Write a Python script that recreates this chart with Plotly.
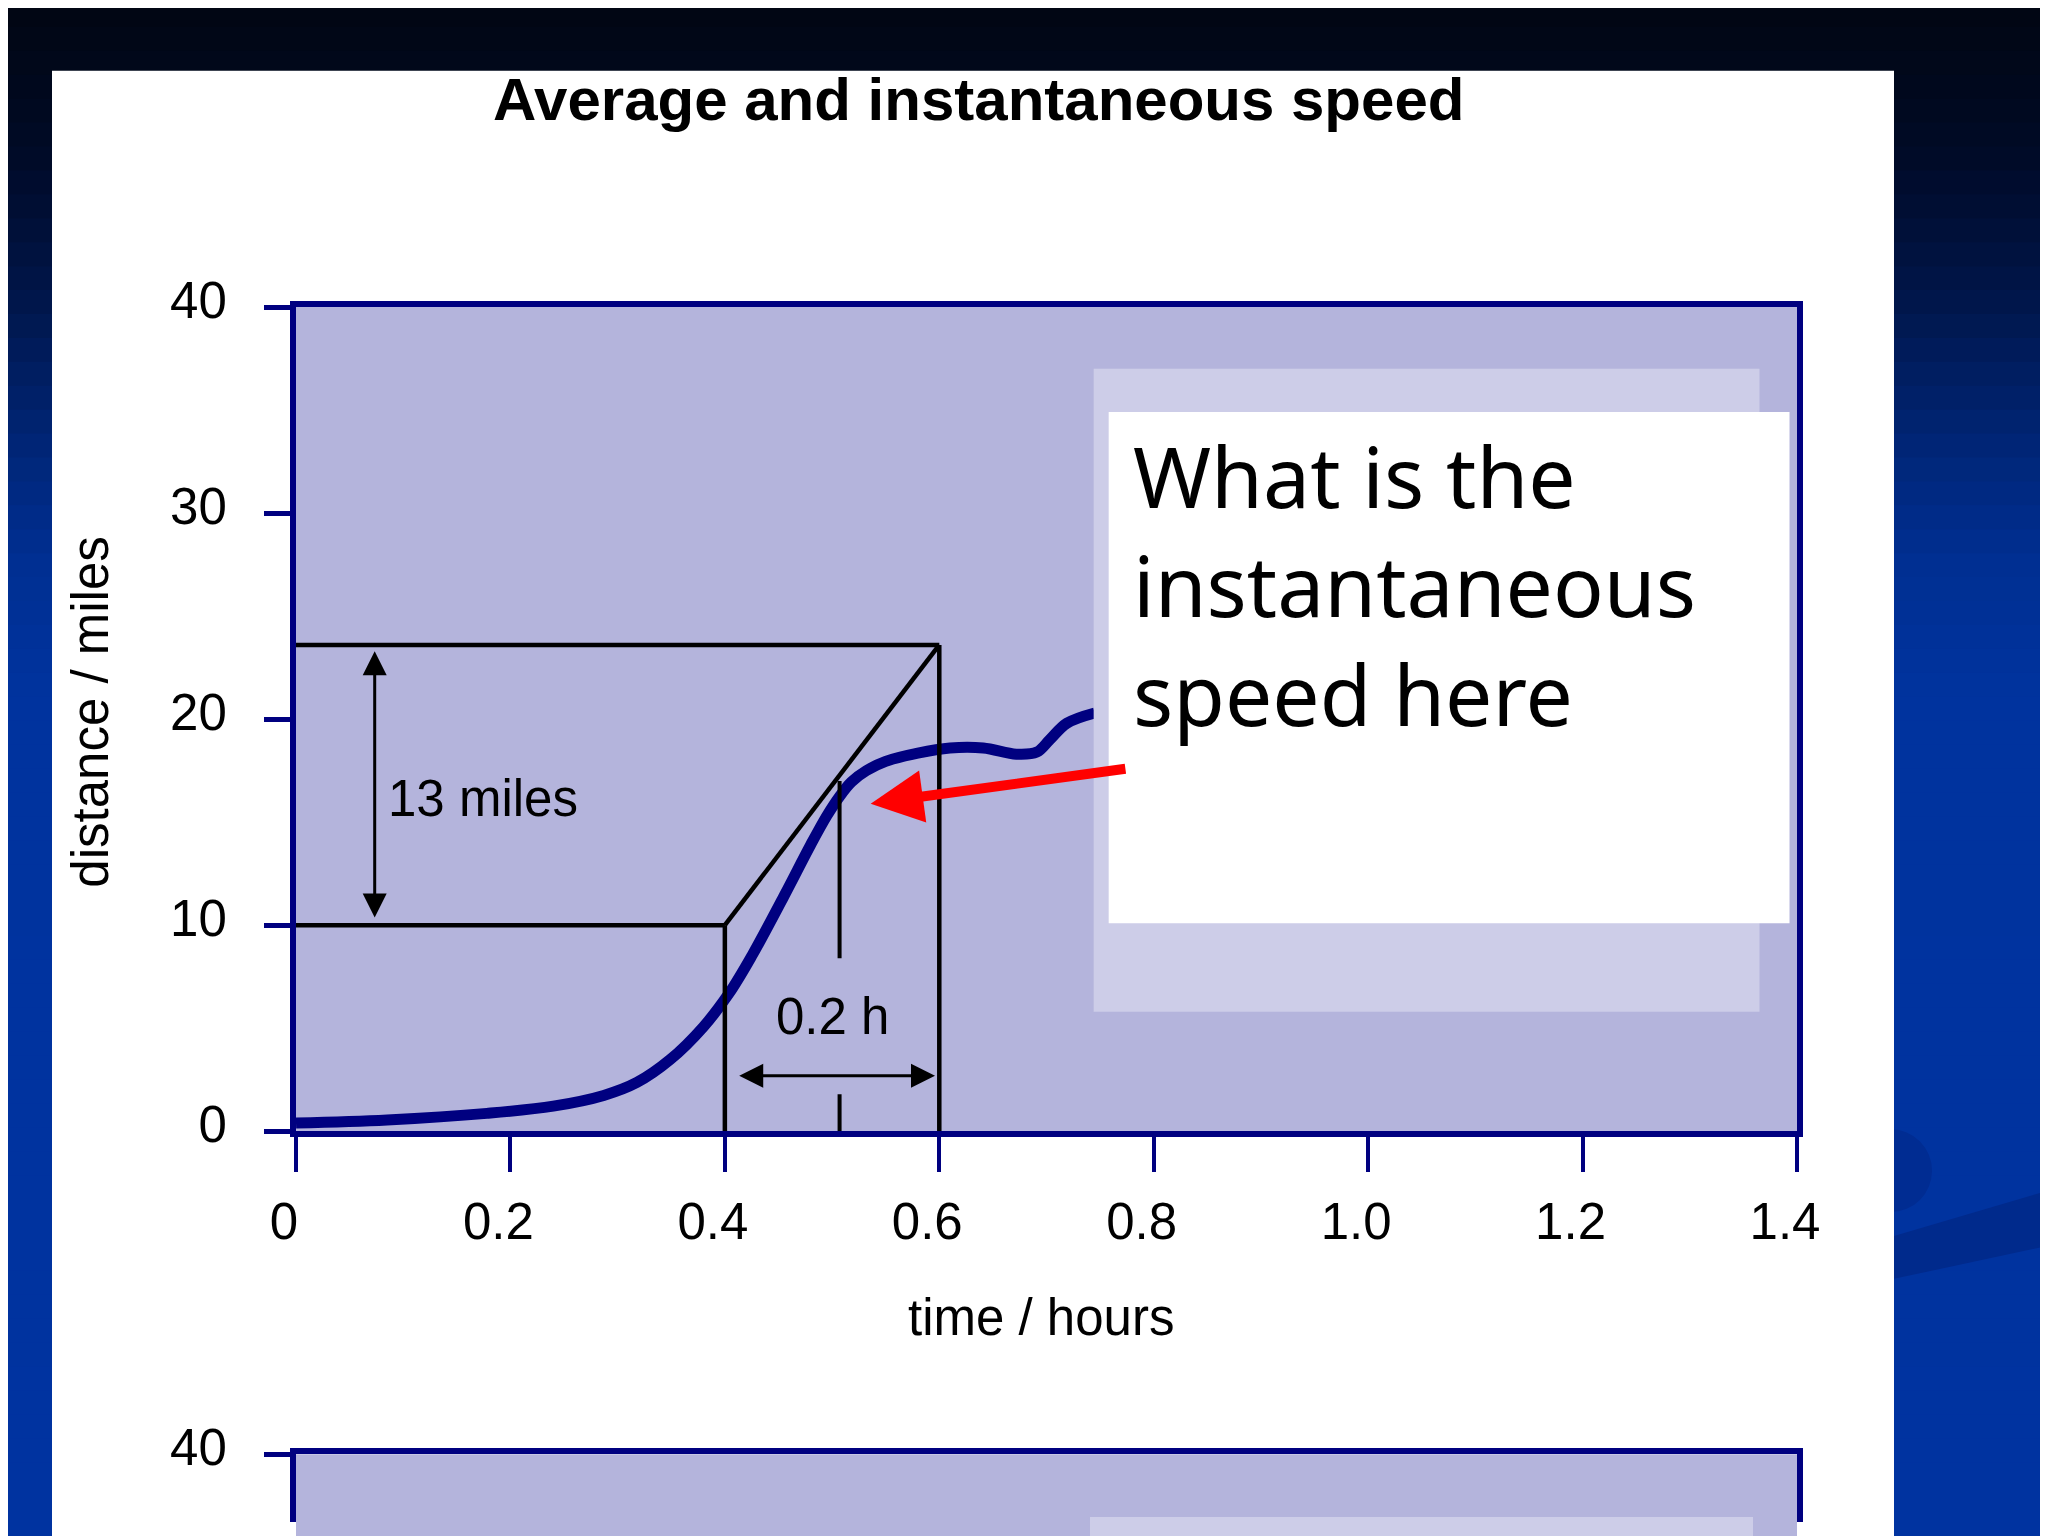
import plotly.graph_objects as go

# distance-time curve
t_hours = [0, 0.085, 0.178, 0.24, 0.287, 0.318, 0.349, 0.38, 0.404, 0.425, 0.455,
           0.48, 0.495, 0.507, 0.518, 0.532, 0.55, 0.58, 0.61, 0.641, 0.672, 0.691,
           0.703, 0.719, 0.745]
d_miles = [0.4, 0.55, 0.87, 1.22, 1.74, 2.37, 3.48, 5.07, 6.7, 8.5, 11.4,
           13.9, 15.3, 16.25, 16.95, 17.5, 17.95, 18.35, 18.6, 18.6, 18.3, 18.4,
           19.0, 19.8, 20.3]

# average speed construction: from (0.4 h, 10 mi) to (0.6 h, 23.6 mi)
avg_t = [0.4, 0.6]
avg_d = [10, 23.6]
tangent_t = 0.507
tangent_d = [8.4, 17.0]
tangent_foot = [0, 1.8]

x_ticks = [0, 0.2, 0.4, 0.6, 0.8, 1.0, 1.2, 1.4]
x_tick_text = ["0", "0.2", "0.4", "0.6", "0.8", "1.0", "1.2", "1.4"]
y_ticks = [0, 10, 20, 30, 40]

# page geometry (the page shows the figure a little offset and shorter)
W, H = 2048, 1536
OX, OY, HE = 8, 6, 1518
L, R, T, B = 288, 259, 299, 0
PW, PH = W - L - R, HE - T - B


def px(x):
    return (x - OX - L) / PW


def py(y):
    return (HE - B - (y - OY)) / PH


NAVY = "#000080"
LAVENDER = "#b4b4dc"
PALE = "#cdcde8"
FONT = "Liberation Sans, Arial, sans-serif"

fig = go.Figure()

fig.add_trace(go.Scatter(
    x=t_hours, y=d_miles, mode="lines",
    line=dict(color=NAVY, width=11, shape="spline", smoothing=1.0),
    hoverinfo="skip"
))

# black construction lines
seg_x = [0, avg_t[0], None, avg_t[0], avg_t[0], None, avg_t[0], avg_t[1], None,
         0, avg_t[1], None, avg_t[1], avg_t[1]]
seg_y = [avg_d[0], avg_d[0], None, 0, avg_d[0], None, avg_d[0], avg_d[1], None,
         avg_d[1], avg_d[1], None, 0, avg_d[1]]
fig.add_trace(go.Scatter(x=seg_x, y=seg_y, mode="lines",
                         line=dict(color="black", width=4.5), hoverinfo="skip"))
fig.add_trace(go.Scatter(
    x=[tangent_t, tangent_t, None, tangent_t, tangent_t],
    y=[tangent_d[0], tangent_d[1], None, tangent_foot[0], tangent_foot[1]],
    mode="lines", line=dict(color="black", width=4), hoverinfo="skip"))

# second (cut off) chart on the slide
fig.add_trace(go.Scatter(x=[], y=[], xaxis="x2", yaxis="y2"))

shapes = []
# slide background gradient (photo y, rgb)
stops = [(0, (1, 6, 18)), (150, (0, 10, 38)), (300, (0, 22, 75)), (450, (0, 38, 120)),
         (560, (0, 47, 146)), (700, (0, 51, 158)), (1600, (0, 51, 160))]


def grad(y):
    for (a, ca), (b, cb) in zip(stops[:-1], stops[1:]):
        if a <= y <= b:
            k = (y - a) / (b - a)
            return "rgb(%d,%d,%d)" % tuple(round(ca[i] + k * (cb[i] - ca[i])) for i in range(3))
    return "rgb(%d,%d,%d)" % stops[-1][1]


n = 64
for i in range(n):
    y0 = H * i / n
    y1 = H * (i + 1) / n + 1
    shapes.append(dict(type="rect", xref="paper", yref="paper", layer="below",
                       x0=px(-20), x1=px(W + 20), y0=py(y1 + 30 * (i == n - 1)),
                       y1=py(y0 - 20 * (i == 0)),
                       fillcolor=grad((y0 + y1) / 2), line_width=0))

# swoosh and blob on the right
sw = [(1894, 1237), (2043, 1193), (2043, 1248), (1894, 1280)]
path = "M " + " L ".join("%f,%f" % (px(a), py(b)) for a, b in sw) + " Z"
shapes.append(dict(type="path", xref="paper", yref="paper", layer="below", path=path,
                   fillcolor="rgb(0,42,140)", line_width=0))
shapes.append(dict(type="circle", xref="paper", yref="paper", layer="below",
                   x0=px(1850), x1=px(1932), y0=py(1213), y1=py(1130),
                   fillcolor="rgb(0,44,146)", line_width=0))

# white slide panel
shapes.append(dict(type="rect", xref="paper", yref="paper", layer="below",
                   x0=px(52), x1=px(1894), y0=-0.05, y1=py(68),
                   fillcolor="white", line_width=0))
# lavender plot backgrounds
shapes.append(dict(type="rect", xref="paper", yref="paper", layer="below",
                   x0=0, x1=1, y0=py(1132), y1=1, fillcolor=LAVENDER, line_width=0))
shapes.append(dict(type="rect", xref="paper", yref="paper", layer="below",
                   x0=0, x1=1, y0=-0.05, y1=py(1456), fillcolor=LAVENDER, line_width=0))
shapes.append(dict(type="rect", xref="paper", yref="paper", layer="below",
                   x0=px(1090), x1=px(1753), y0=-0.05, y1=py(1519),
                   fillcolor=PALE, line_width=0))

# callout boxes
shapes.append(dict(type="rect", xref="x", yref="y", layer="above",
                   x0=0.744, x1=1.365, y0=5.8, y1=37.0,
                   fillcolor=PALE, line_width=0))
shapes.append(dict(type="rect", xref="x", yref="y", layer="above",
                   x0=0.758, x1=1.393, y0=10.1, y1=34.9,
                   fillcolor="white", line_width=0))

annotations = [
    dict(text="<b>Average and instantaneous speed</b>", xref="paper", yref="paper",
         x=px(978), y=py(97), xanchor="center", yanchor="middle", showarrow=False,
         font=dict(family=FONT, size=60, color="black")),
    dict(text="distance / miles", xref="paper", yref="paper", x=px(91), y=py(712),
         textangle=-90, xanchor="center", yanchor="middle", showarrow=False,
         font=dict(family=FONT, size=51, color="black")),
    dict(text="time / hours", xref="paper", yref="paper", x=px(1041), y=py(1319),
         xanchor="center", yanchor="middle", showarrow=False,
         font=dict(family=FONT, size=51, color="black")),
    dict(text="13 miles", xref="x", yref="y", x=0.0836, y=16.15, xanchor="left",
         yanchor="middle", showarrow=False, font=dict(family=FONT, size=51, color="black")),
    dict(text="0.2 h", xref="x", yref="y", x=0.5, y=5.58, xanchor="center",
         yanchor="middle", showarrow=False, font=dict(family=FONT, size=51, color="black")),
    # double arrows
    dict(x=0.0734, y=avg_d[1] - 0.3, ax=0.0734, ay=avg_d[0] + 0.3, xref="x", yref="y",
         axref="x", ayref="y", text="", showarrow=True, arrowhead=2, startarrowhead=2,
         arrowside="end+start", arrowwidth=3, arrowsize=1.6, startarrowsize=1.6,
         arrowcolor="black"),
    dict(x=0.596, y=2.7, ax=0.412, ay=2.7, xref="x", yref="y",
         axref="x", ayref="y", text="", showarrow=True, arrowhead=2, startarrowhead=2,
         arrowside="end+start", arrowwidth=3, arrowsize=1.6, startarrowsize=1.6,
         arrowcolor="black"),
    # red pointer
    dict(x=0.536, y=15.9, ax=0.775, ay=17.6, xref="x", yref="y",
         axref="x", ayref="y", text="", showarrow=True, arrowhead=2,
         arrowwidth=10, arrowsize=1.05, arrowcolor="#ff0000"),
    dict(text="What is the<br>instantaneous<br>speed here", xref="x", yref="y",
         x=0.7785, y=26.55, xanchor="left", yanchor="middle", align="left",
         showarrow=False,
         font=dict(family="Comic Sans MS, Noto Sans, sans-serif", size=84, color="black")),
]

axis_common = dict(showgrid=False, zeroline=False, linecolor=NAVY, linewidth=6,
                   tickcolor=NAVY, tickfont=dict(family=FONT, size=51, color="black"))

fig.update_layout(
    width=W, height=H,
    margin=dict(l=L, r=R, t=T, b=B),
    paper_bgcolor="white",
    plot_bgcolor="rgba(0,0,0,0)",
    showlegend=False,
    shapes=shapes,
    annotations=annotations,
    xaxis=dict(axis_common, range=[0, 1.4], anchor="y", showline=True, mirror=True,
               ticks="outside", ticklen=35, tickwidth=3.5, tickvals=x_ticks,
               ticktext=x_tick_text, ticklabelstandoff=6, ticklabelshift=-12),
    yaxis=dict(axis_common, range=[0, 40], domain=[py(1132), 1], anchor="x",
               showline=True, mirror=True, ticks="outside", ticklen=26, tickwidth=5,
               tickvals=y_ticks, ticklabelstandoff=27, ticklabelshift=-7),
    xaxis2=dict(axis_common, range=[0, 1.4], anchor="y2", side="top", showline=True,
                ticks="", showticklabels=False),
    yaxis2=dict(axis_common, range=[40 - (HE - (1456 - OY)) / 20.675, 40],
                domain=[0, py(1456)], anchor="x2", showline=True, mirror=True,
                ticks="outside", ticklen=26, tickwidth=5, tickvals=[40],
                ticklabelstandoff=27, ticklabelshift=-7),
)

fig.write_html("out.html")
